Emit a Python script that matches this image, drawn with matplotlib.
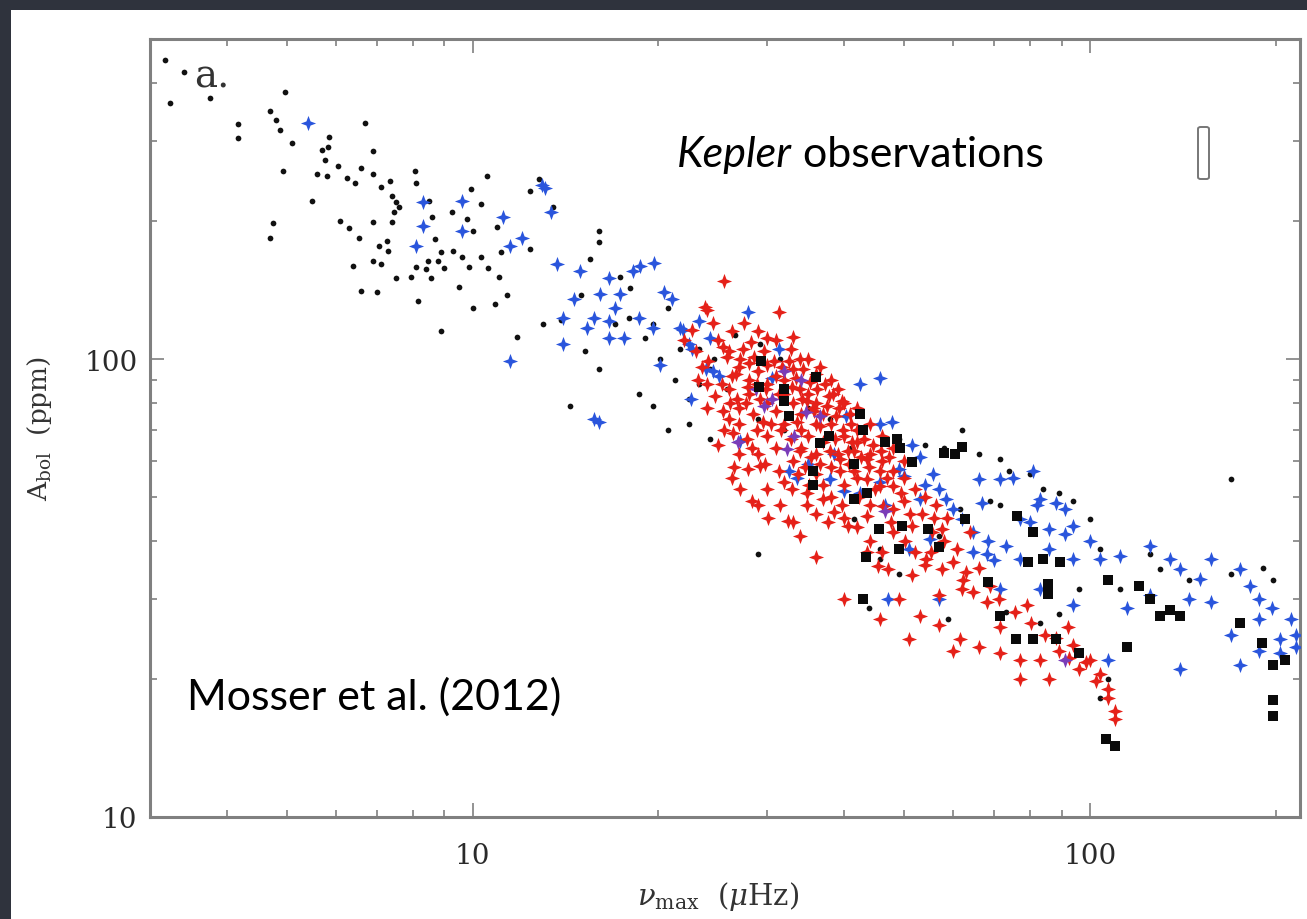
import numpy as np
import matplotlib
matplotlib.use("Agg")
import matplotlib.pyplot as plt
from matplotlib.patches import Rectangle, FancyBboxPatch
from matplotlib.ticker import LogLocator, FuncFormatter, NullFormatter

# small black dots (nu_max [muHz], A_bol [ppm])
small_pts = np.array([
    [3.17, 450], [3.23, 362], [3.40, 423], [3.75, 372], [4.97, 383],
    [4.17, 326], [4.17, 304], [4.70, 348], [4.80, 333], [4.87, 316], [5.10, 297],
    [4.93, 258], [5.50, 221], [4.75, 198], [4.70, 184], [6.70, 327], [6.90, 284],
    [5.85, 306], [5.83, 290], [5.70, 286], [5.77, 272], [6.05, 264], [5.60, 253],
    [5.80, 251], [6.25, 248], [6.45, 242], [6.60, 262], [6.90, 253], [7.10, 237],
    [7.35, 245], [8.05, 257], [8.10, 242], [7.40, 227], [7.50, 220], [7.60, 215],
    [7.45, 210], [7.40, 199], [6.90, 199], [6.10, 200], [6.30, 193], [6.55, 184],
    [6.40, 160], [6.90, 164], [7.10, 161], [7.05, 177], [7.25, 181], [7.30, 172],
    [6.60, 141], [7.00, 140], [7.50, 150], [7.95, 151], [8.15, 134], [8.10, 159],
    [8.40, 157], [8.45, 164], [8.55, 150], [8.60, 204], [8.50, 221], [8.70, 183],
    [8.80, 164], [8.90, 171], [9.00, 158], [9.30, 172], [9.50, 144], [9.25, 209],
    [9.60, 167], [9.80, 202], [9.95, 235], [9.85, 159], [10.3, 218], [10.0, 190],
    [10.3, 167], [10.55, 251], [10.6, 158], [10.95, 194], [11.1, 171], [11.05, 151],
    [10.85, 132], [11.35, 138], [12.4, 233], [12.4, 174], [10.0, 129], [8.9, 115],
    [11.8, 112],
    [12.8, 247], [13.5, 215], [16.0, 190], [16.0, 180], [15.5, 165], [15.0, 138],
    [17.3, 151], [18.0, 143], [17.0, 119], [13.9, 122], [13.0, 119], [15.2, 104],
    [16.0, 95], [18.6, 84], [19.6, 79], [20.7, 70], [22.4, 82], [23.3, 88],
    [24.2, 95], [21.3, 90], [20.1, 100], [21.7, 105], [23.3, 105], [24.6, 100],
    [25.8, 86], [24.2, 67], [22.4, 72], [14.4, 79], [17.9, 123], [19.0, 111],
    [19.6, 119], [20.7, 129], [26.6, 113], [29.2, 108], [31.5, 100], [29.0, 74],
    [32.0, 70], [35.0, 78], [37.9, 74], [41.0, 64], [49.0, 67], [54.0, 65],
    [58.0, 64], [62.0, 70], [66.0, 62], [71.5, 60.5], [74.0, 57], [80.0, 56],
    [84.0, 52], [89.0, 51], [94.0, 49], [69.0, 49], [71.5, 48], [76.0, 46],
    [61.6, 47], [57.0, 41], [45.7, 38.5], [45.7, 36.6], [49.0, 34], [29.0, 37.5],
    [41.5, 44.7], [100, 44.7], [104, 38.5], [125, 37.5], [130, 34.8], [145, 33],
    [169, 34], [191, 35], [198, 33], [96, 31.5], [86, 30.6], [112, 31.5],
    [73, 28], [83, 26.5], [104, 18.2], [107, 20], [89, 27.8], [43.9, 28.6],
    [59, 27], [169, 54.7],
])

# larger black symbols
big_pts = np.array([
    [29.3, 99], [31.9, 86], [32.0, 81], [32.5, 75], [29.1, 87], [36.0, 91.6],
    [37.8, 68], [36.5, 65.5], [35.6, 57], [35.6, 53], [41.5, 59], [42.9, 70],
    [42.4, 76], [48.7, 67], [49.2, 64], [46.6, 66], [58, 62.5], [62, 64.3],
    [60.5, 62], [51.5, 59.5], [41.5, 49.6], [43.6, 51], [45.5, 42.6], [49.7, 43.3],
    [54.6, 42.6], [43.3, 37], [57, 38.9], [62.8, 44.7], [76.3, 45.4], [81, 42],
    [79.5, 36.1], [84, 36.6], [89.4, 36.1], [68.5, 32.6], [85.5, 32.3], [85.5, 30.7],
    [107, 33], [120, 32], [125, 30], [135, 28.3], [130, 27.5], [175, 26.5],
    [190, 24], [198, 21.5], [207, 22], [198, 18], [198, 16.6], [110, 14.3],
    [106, 14.8], [96, 22.8], [76, 24.5], [81, 24.5], [71.5, 27.5], [115, 23.5],
    [140, 27.5], [42.9, 29.9], [49, 38.5], [88, 24.5],
])

# blue symbols
blue_pts = np.array([
    [5.4, 327], [8.3, 220], [9.6, 221], [8.3, 195], [8.1, 177], [9.6, 190],
    [11.2, 204], [12.0, 184], [12.95, 240], [13.1, 236], [11.5, 177], [13.4, 209],
    [13.7, 161], [14.9, 156], [16.06, 139], [16.6, 150], [17.3, 139], [18.2, 156],
    [18.65, 160], [14.6, 135], [15.7, 123], [14.0, 123], [15.3, 117], [16.6, 121],
    [17.0, 129], [17.6, 111], [16.6, 111], [14.0, 108], [11.5, 99], [16.0, 73],
    [15.7, 74], [19.7, 162], [20.4, 140], [21.0, 135], [21.7, 117], [23.3, 121],
    [24.2, 111], [22.4, 108], [19.6, 117], [18.6, 123], [20.1, 97], [23.9, 95],
    [25.1, 92],
    [27.9, 127], [21.9, 116], [22.7, 105], [22.6, 82], [24.5, 94], [27.1, 66.4],
    [31.4, 105], [30.5, 91], [40.3, 75], [45.7, 72], [47.8, 73], [51.5, 65],
    [53, 61], [55.6, 56], [54, 53], [58.5, 49.4], [60, 47], [64.6, 42],
    [64.6, 38], [68.5, 40], [70, 36.5], [73, 39], [80, 44], [82, 48],
    [88, 48.5], [91, 47], [91, 41.5], [81, 57], [75, 55], [66.8, 48.5],
    [50, 55.5], [45.7, 53.8], [38.5, 62], [40, 51.5], [32.5, 57], [33.5, 55],
    [42.4, 88], [45.7, 91], [49, 57.5], [53, 49.4], [57, 52], [66, 54.7],
    [71.5, 54.7], [77, 44.7], [83, 49.4], [86, 42.6], [94, 43.3], [100, 40],
    [104, 36.6], [112, 37.2], [125, 39], [135, 36.6], [140, 34.8], [151, 33.1],
    [157, 36.6], [175, 34.8], [182, 32], [188, 30], [197, 28.6], [212, 27],
    [203, 24.5], [216, 25], [188, 23], [175, 21.5], [169, 25], [140, 21],
    [107, 22], [115, 28.6], [94, 36.6], [77, 36.6], [68, 37.5], [62, 44.7],
    [55, 40.4], [51, 38.5], [46.6, 48], [42.4, 51], [37.9, 54.7], [35, 59],
    [47, 29.9], [57, 29.9], [71.5, 31.5], [83, 31.5], [86, 38.5], [94, 29],
    [125, 30.6], [145, 30], [157, 29.5], [188, 27.1], [203, 22.8], [216, 23.5],
])

# red symbols
red_pts = np.array([
    [23.8, 130], [31.4, 127], [26.3, 115], [25.4, 106], [27.1, 100], [28.2, 109],
    [30, 111], [32.8, 105], [33.9, 100], [26.3, 92], [27.9, 87], [29.2, 82],
    [26.8, 82], [25.4, 77], [33.9, 86], [34.8, 81], [35.6, 78], [37.8, 83],
    [39.2, 78], [33.5, 73], [36.5, 71.5], [38.7, 67], [40.5, 63], [39.3, 60.5],
    [41.5, 57], [43.6, 54.7], [45.7, 52.8], [41.5, 63], [43.6, 60.5], [45.7, 57],
    [48, 52.8], [27.9, 57.5], [29.2, 58.5], [34.8, 51], [32.4, 44.2], [33.9, 41],
    [36.9, 49.4], [38.5, 46.3], [40.6, 43.3], [43.6, 45.5], [46.2, 47.8], [48, 42],
    [51.5, 43.3], [55.5, 42], [43.6, 37.9], [45.3, 35.3], [47, 34.8], [51.5, 33.7],
    [54.3, 36.6], [57.7, 34.8], [63, 34.3], [64.6, 31], [60.8, 38.5], [57.7, 42.6],
    [64, 42],
    [24.5, 120], [25, 110], [26, 104], [27, 96], [28, 98], [29, 94], [30, 97],
    [31, 92], [32, 90], [33, 95], [30, 88], [28, 84], [27, 78], [26, 74],
    [25.5, 70], [27, 72], [28.5, 76], [29.5, 73], [31, 77], [32, 84], [33, 80],
    [34, 76], [35, 84], [36, 80], [37, 76], [38, 72], [37, 66], [36, 62],
    [35, 68], [34, 64], [33, 60], [34.5, 58], [36, 56], [38, 58], [39, 62],
    [40, 68], [41, 72], [42, 66], [44, 62], [46, 60], [48, 57], [50, 55],
    [52, 52], [54, 50], [42, 55], [40, 53], [44, 48], [48, 47], [50, 49],
    [30, 68], [31, 64], [29, 62], [27, 62], [25, 65], [26.5, 58], [24, 88],
    [23.5, 96], [23, 104], [22, 110], [24, 78], [36, 93], [38, 90], [31, 110],
    [29, 115], [27.5, 120], [33, 112], [35, 100], [36.5, 96], [39, 86], [40, 80],
    [42, 78], [44, 72], [46, 68], [48, 64], [50, 60], [26, 86], [28, 90],
    [32, 72], [30, 80], [34, 70], [36, 72], [32, 54], [30, 52], [29, 48],
    [38, 50], [36, 46], [40, 45], [42, 43], [44, 40], [46, 38], [56, 45],
    [58, 40], [52, 38], [54, 35.5], [25.5, 148], [24, 128],
    [25.8, 101], [26.7, 93], [27.4, 105], [28.6, 101], [29.7, 104], [30.8, 99],
    [31.7, 96], [32.6, 99], [33.4, 91], [34.3, 95], [35.2, 89], [36.1, 86],
    [37.2, 88], [38.4, 84], [39.6, 81], [40.8, 76], [41.9, 70], [43.1, 67],
    [44.6, 65], [45.9, 63], [47.3, 61], [25.3, 88], [26.1, 80], [27.7, 80],
    [28.9, 88], [29.9, 86], [31.3, 84], [32.9, 87], [34.1, 82], [35.7, 77],
    [37.5, 79], [38.8, 75], [39.8, 70], [41.2, 66], [42.5, 61], [43.9, 58],
    [26.4, 69], [27.8, 67], [28.9, 70], [30.4, 72], [31.6, 70], [32.8, 67],
    [33.9, 63], [35.3, 61], [36.6, 59], [37.9, 63], [39.4, 57], [40.7, 59],
    [24.7, 83], [24.1, 99], [23.2, 90], [22.7, 116], [28.4, 64], [29.8, 59],
    [31.3, 57], [32.9, 52], [34.8, 48], [36.9, 53], [37.7, 44], [39.6, 48],
    [27.1, 52], [26.3, 55], [28.3, 49], [30.1, 45], [31.5, 48], [33.7, 56],
    [35.1, 53], [42.2, 50], [44.8, 52], [46.9, 55], [49.4, 51], [51.2, 46],
    [53.4, 46], [56.4, 48], [58.7, 45], [47.7, 44], [50.1, 40], [55.2, 38],
    [60.1, 36], [62.4, 33], [66.1, 35], [68.8, 32], [71.2, 30], [75.5, 28],
    [80.3, 26.5], [84.6, 25], [88.2, 24.6], [92.6, 22.3], [98.4, 21.8], [102.3, 19.8],
    [53, 27.5], [57, 26.3], [61.6, 24.5], [66, 23.5], [71.5, 22.8], [77, 22],
    [83, 22], [89, 23], [94, 23.8], [96, 21], [86, 20], [77, 20], [107, 19],
    [110, 17], [107, 18.2], [79, 29], [71.5, 26], [60, 23], [51, 24.5],
    [45.7, 27], [57, 30.5], [68, 29.5], [49, 30], [62, 31.5], [104, 20.5],
    [100, 22], [92, 26], [40, 30], [36, 37], [33, 44], [110, 16.4],
])

# purple symbols inside the dense clump
purple_pts = np.array([
    [28.8, 86], [30.6, 82], [26.9, 66], [36.5, 75], [34.7, 76.5], [33.2, 68],
    [32.3, 63.5], [31.9, 94], [29.6, 79], [46.6, 46.5], [91, 22], [34, 90],
])

W, H = 1307, 920
fig = plt.figure(figsize=(W / 100, H / 100), dpi=100)
fig.patch.set_facecolor('#2f333d')
fig.add_artist(Rectangle((11 / W, 0), 1, (H - 11) / H, transform=fig.transFigure,
                         facecolor='white', edgecolor='none', zorder=0))

ax = fig.add_axes([150 / W, 102 / H, 1150 / W, 778 / H])
ax.set_facecolor('white')

# 4-point sparkle marker
r = 0.27
spark = [(0, 1), (r, r), (1, 0), (r, -r), (0, -1), (-r, -r), (-1, 0), (-r, r), (0, 1)]

ax.scatter(small_pts[:, 0], small_pts[:, 1], s=17, c='#111111', marker='o',
           linewidths=0, zorder=3)
ax.scatter(blue_pts[:, 0], blue_pts[:, 1], s=120, c='#2a55dc', marker=spark,
           linewidths=0, zorder=4)
ax.scatter(red_pts[:, 0], red_pts[:, 1], s=120, c='#e52119', marker=spark,
           linewidths=0, zorder=5)
ax.scatter(purple_pts[:, 0], purple_pts[:, 1], s=120, c='#7a3cb8', marker=spark,
           linewidths=0, zorder=6)
ax.scatter(big_pts[:, 0], big_pts[:, 1], s=46, c='#0a0a0a', marker='s',
           linewidths=0, zorder=7)

ax.set_xscale('log')
ax.set_yscale('log')
ax.set_xlim(3.0, 219)
ax.set_ylim(10, 500)

fmt = FuncFormatter(lambda v, p: f'{v:g}')
for axis in (ax.xaxis, ax.yaxis):
    axis.set_major_locator(LogLocator(base=10))
    axis.set_minor_locator(LogLocator(base=10, subs=np.arange(2, 10)))
    axis.set_major_formatter(fmt)
    axis.set_minor_formatter(NullFormatter())

frame_col = '#808080'
for sp in ax.spines.values():
    sp.set_color(frame_col)
    sp.set_linewidth(2.2)
ax.tick_params(which='both', direction='in', top=True, right=True,
               color=frame_col, width=1.2)
ax.tick_params(which='major', length=10)
ax.tick_params(which='minor', length=5)
ax.tick_params(axis='x', which='major', labelsize=20, pad=18)
ax.tick_params(axis='y', which='major', labelsize=20, pad=9)
for lab in ax.get_xticklabels() + ax.get_yticklabels():
    lab.set_family('DejaVu Serif')
    lab.set_color('#2a2a2a')

plt.rcParams['mathtext.fontset'] = 'dejavuserif'
fig.text(718 / W, 1 - 897 / H, r'$\nu_{\rm max}$  ($\mu$Hz)', ha='center', va='center',
         fontsize=21, family='DejaVu Serif', color='#333333')
fig.text(40 / W, 1 - 428 / H, r'A$_{\rm bol}$  (ppm)', ha='center', va='center',
         rotation=90, fontsize=19, family='DejaVu Serif', color='#333333')

# panel letter
fig.text(194 / W, 1 - 88 / H, 'a.', ha='left', va='baseline', fontsize=28,
         family='DejaVu Serif', color='#333333')

# slide annotations
t1 = fig.text(677 / W, 1 - 167 / H, 'Kepler', ha='left', va='baseline',
              fontsize=31, family='Lato', style='italic', color='black')
ax.annotate(' observations', xy=(1, 0), xycoords=t1, ha='left', va='bottom',
            fontsize=31, family='Lato', color='black', annotation_clip=False)
fig.text(187 / W, 1 - 710 / H, 'Mosser et al. (2012)', ha='left', va='baseline',
         fontsize=31, family='Lato', color='black')

# small open box (scale marker)
fig.add_artist(FancyBboxPatch((1198 / W, 1 - 180 / H), 11 / W, 52 / H,
                              boxstyle='round,pad=0,rounding_size=0.002',
                              transform=fig.transFigure, facecolor='white',
                              edgecolor='#777777', linewidth=1.4, zorder=10))

plt.savefig('out.png', dpi=100, facecolor=fig.get_facecolor())
